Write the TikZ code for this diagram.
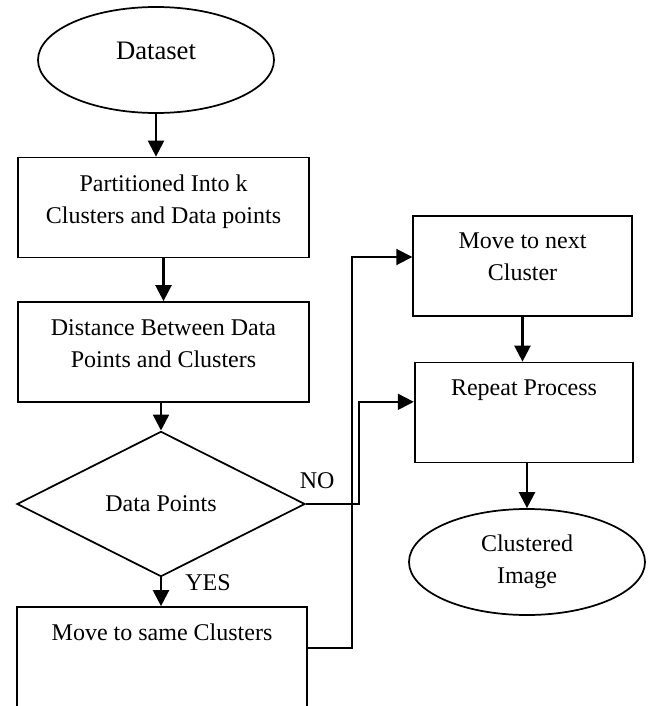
\documentclass[tikz,border=0pt]{standalone}
\usepackage{fontspec}
\setmainfont{Liberation Serif}
\usetikzlibrary{shapes.geometric,arrows.meta,positioning}

\begin{document}
\begin{tikzpicture}[x=0.75pt,y=-0.75pt,
  txt/.style={font=\fontsize{18}{24}\selectfont,align=center},
  box/.style={draw,line width=1.3pt,minimum width=218pt,minimum height=75pt,
    label={[txt,anchor=north,yshift=-10pt]north:#1}},
  term/.style={ellipse,draw,line width=1.3pt,minimum width=177pt,minimum height=79.5pt,txt},
  dec/.style={diamond,draw,line width=1.3pt,minimum width=216pt,minimum height=85.5pt,txt},
  arr/.style={-{Triangle[length=12pt,width=12pt]},line width=1.8pt}]
\useasboundingbox (0,0) rectangle (651,706);
\node[term,font=\fontsize{20}{24}\selectfont,text depth=14pt] (data) at (156,60) {Dataset};
\node[box={Partitioned Into k\\Clusters and Data points}] (part) at (163.5,207.5) {};
\node[box={Distance Between Data\\Points and Clusters}] (dist) at (163.5,352) {};
\node[dec] (dp) at (161,504) {Data Points};
\node[box={Move to same Clusters},minimum height=82.5pt] (same) at (162,662) {};
\node[box={Move to next\\Cluster},minimum width=164pt] (next) at (522.5,266) {};
\node[box={Repeat Process},minimum width=164pt] (rep) at (524,412.5) {};
\node[term] (clus) at (527,562) {Clustered\\Image};
\node[txt,above right=8pt and -8pt of dp.east] (no) {NO};
\node[txt,below right=-5.5pt and 14.7pt of dp.south] (yes) {YES};
\draw[arr] (data.south) -- (data.south |- part.north);
\draw[arr] (part) -- (dist);
\draw[arr] (dp.north |- dist.south) -- (dp.north);
\draw[arr] (dp.south) -- (dp.south |- same.north);
\draw[arr] (next.south) -- (next.south |- rep.north);
\draw[arr] (clus.north |- rep.south) -- (clus.north);
\draw[arr,line width=1.4pt] (dp.east) -- ++(53,0) |- ([yshift=8pt]rep.west);
\draw[arr,line width=1.4pt] ([yshift=10.5pt]same.east) -- ++(44,0) |- ([yshift=6.75pt]next.west);
\end{tikzpicture}
\end{document}
